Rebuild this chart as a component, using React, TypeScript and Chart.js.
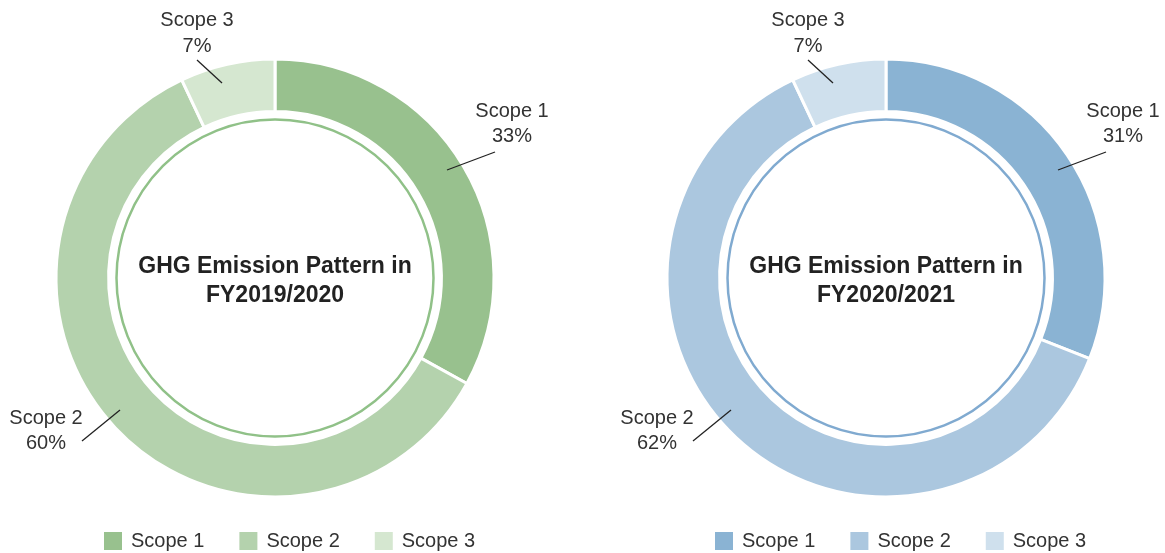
import React, { useEffect, useRef } from "react";
import { Chart, registerables } from "chart.js";

Chart.register(...registerables);

const categories = ["Scope 1", "Scope 2", "Scope 3"];
const fy1920Values = [33, 60, 7];
const fy2021Values = [31, 62, 7];
const fy1920Title = ["GHG Emission Pattern in", "FY2019/2020"];
const fy2021Title = ["GHG Emission Pattern in", "FY2020/2021"];
const greenColors = ["#98c18e", "#b4d2ad", "#d5e7d0"];
const blueColors = ["#8ab3d3", "#abc7df", "#cfe0ed"];
const greenRing = "#90c188";
const blueRing = "#80aad0";

const FONT = '"Liberation Sans", Arial, Helvetica, sans-serif';

// label layout relative to donut centre (leader line from p1 to p2, text centre x, two line y's)
const labelLayout = [
  { p1: [172, -108], p2: [220, -126], tx: 237, y1: -167, y2: -142 },
  { p1: [-155, 132], p2: [-193, 163], tx: -229, y1: 140, y2: 165 },
  { p1: [-53, -195], p2: [-78, -218], tx: -78, y1: -258, y2: -232 },
];

const decorPlugin = {
  id: "ghgDecor",
  afterDraw(chart: any, _args: any, opts: any) {
    const meta = chart.getDatasetMeta(0);
    const arc0 = meta.data[0];
    if (!arc0) return;
    const cx = arc0.x;
    const cy = arc0.y;
    const ctx = chart.ctx;
    ctx.save();
    // thin inner ring
    ctx.beginPath();
    ctx.arc(cx, cy, 158.5, 0, Math.PI * 2);
    ctx.strokeStyle = opts.ringColor;
    ctx.lineWidth = 2.5;
    ctx.stroke();

    // centre title
    ctx.fillStyle = "#222222";
    ctx.font = `bold 23px ${FONT}`;
    ctx.textAlign = "center";
    ctx.textBaseline = "middle";
    ctx.fillText(opts.title[0], cx, cy - 11);
    ctx.fillText(opts.title[1], cx, cy + 18);

    // outside labels
    const labels = chart.data.labels as string[];
    const values = chart.data.datasets[0].data as number[];
    ctx.font = `20px ${FONT}`;
    labelLayout.forEach((l, i) => {
      ctx.beginPath();
      ctx.moveTo(cx + l.p1[0], cy + l.p1[1]);
      ctx.lineTo(cx + l.p2[0], cy + l.p2[1]);
      ctx.strokeStyle = "#222222";
      ctx.lineWidth = 1.3;
      ctx.stroke();
      ctx.fillStyle = "#333333";
      ctx.fillText(labels[i], cx + l.tx, cy + l.y1);
      ctx.fillText(`${values[i]}%`, cx + l.tx, cy + l.y2);
    });

    // legend
    const colors = chart.data.datasets[0].backgroundColor as string[];
    let x = cx - 171;
    const boxTop = cy + 254;
    ctx.textAlign = "left";
    labels.forEach((lab, i) => {
      ctx.fillStyle = colors[i];
      ctx.fillRect(x, boxTop, 18, 18);
      ctx.fillStyle = "#333333";
      ctx.fillText(lab, x + 27, boxTop + 9.5);
      const w = ctx.measureText(lab).width;
      x += 27 + w + 35;
    });
    ctx.restore();
  },
};

function Donut(props: {
  values: number[];
  colors: string[];
  ringColor: string;
  title: string[];
  padding: any;
}) {
  const ref = useRef<HTMLCanvasElement | null>(null);
  useEffect(() => {
    if (!ref.current) return;
    const chart = new Chart(ref.current, {
      type: "doughnut",
      data: {
        labels: categories,
        datasets: [
          {
            data: props.values,
            backgroundColor: props.colors,
            borderColor: "#ffffff",
            borderWidth: 3,
          },
        ],
      },
      options: {
        animation: false,
        responsive: true,
        maintainAspectRatio: false,
        radius: 219,
        cutout: "76%",
        layout: { padding: props.padding },
        plugins: {
          legend: { display: false },
          tooltip: { enabled: false },
          ghgDecor: { title: props.title, ringColor: props.ringColor },
        } as any,
      } as any,
      plugins: [decorPlugin],
    });
    return () => chart.destroy();
  }, []);
  return <canvas ref={ref} />;
}

export default function App() {
  return (
    <div
      style={{
        position: "fixed",
        left: 0,
        top: 0,
        width: 1165,
        height: 553,
        background: "#ffffff",
        overflow: "hidden",
      }}
    >
      <div style={{ position: "absolute", left: 0, top: 0, width: 582, height: 553 }}>
        <Donut
          values={fy1920Values}
          colors={greenColors}
          ringColor={greenRing}
          title={fy1920Title}
          padding={{ left: 0, right: 32, top: 3, bottom: 0 }}
        />
      </div>
      <div style={{ position: "absolute", left: 582, top: 0, width: 583, height: 553 }}>
        <Donut
          values={fy2021Values}
          colors={blueColors}
          ringColor={blueRing}
          title={fy2021Title}
          padding={{ left: 25, right: 0, top: 3, bottom: 0 }}
        />
      </div>
    </div>
  );
}
